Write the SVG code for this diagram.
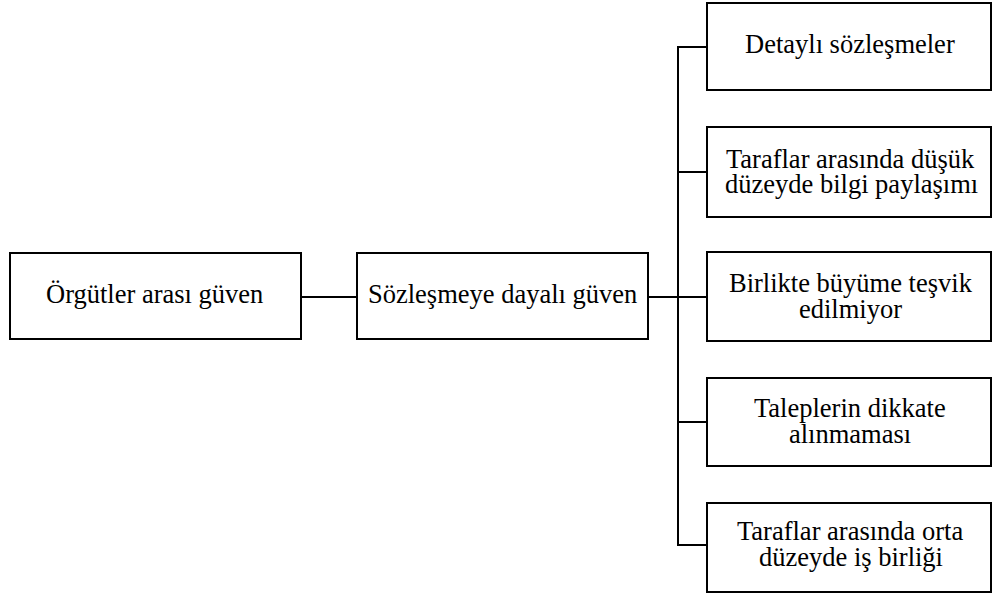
<svg xmlns="http://www.w3.org/2000/svg" width="993" height="596" viewBox="0 0 993 596">
<rect width="993" height="596" fill="#fff"/>
<g id="connectors" fill="none" stroke="#000" stroke-width="2">
<line x1="301" y1="297" x2="357" y2="297"/>
<line x1="648" y1="297" x2="678" y2="297"/>
<polyline points="707,47 678,47 678,545 707,545"/>
<line x1="678" y1="172" x2="707" y2="172"/>
<line x1="678" y1="297" x2="707" y2="297"/>
<line x1="678" y1="422" x2="707" y2="422"/>
</g>
<g id="n1"><rect x="10" y="253" width="291" height="86" fill="#fff" stroke="#000" stroke-width="2"/><text x="46" y="303" font-family="Liberation Serif" font-size="26.5" fill="#000">Örgütler arası güven</text></g>
<g id="n2"><rect x="357" y="253" width="291" height="86" fill="#fff" stroke="#000" stroke-width="2"/><text x="368" y="303" font-family="Liberation Serif" font-size="26.5" fill="#000">Sözleşmeye dayalı güven</text></g>
<g id="n3"><rect x="707" y="3" width="284" height="87" fill="#fff" stroke="#000" stroke-width="2"/><text x="745" y="53" font-family="Liberation Serif" font-size="26.5" fill="#000">Detaylı sözleşmeler</text></g>
<g id="n4"><rect x="707" y="127" width="284" height="90" fill="#fff" stroke="#000" stroke-width="2"/><text x="726" y="168" font-family="Liberation Serif" font-size="26.5" fill="#000">Taraflar arasında düşük<tspan x="725" dy="25">düzeyde bilgi paylaşımı</tspan></text></g>
<g id="n5"><rect x="707" y="252" width="284" height="89" fill="#fff" stroke="#000" stroke-width="2"/><text x="729" y="292" font-family="Liberation Serif" font-size="26.5" fill="#000">Birlikte büyüme teşvik<tspan x="799" dy="26">edilmiyor</tspan></text></g>
<g id="n6"><rect x="707" y="378" width="284" height="88" fill="#fff" stroke="#000" stroke-width="2"/><text x="754" y="417" font-family="Liberation Serif" font-size="26.5" fill="#000">Taleplerin dikkate<tspan x="789" dy="26">alınmaması</tspan></text></g>
<g id="n7"><rect x="707" y="503" width="284" height="89" fill="#fff" stroke="#000" stroke-width="2"/><text x="737" y="540" font-family="Liberation Serif" font-size="26.5" fill="#000">Taraflar arasında orta<tspan x="759" dy="26">düzeyde iş birliği</tspan></text></g>
</svg>
